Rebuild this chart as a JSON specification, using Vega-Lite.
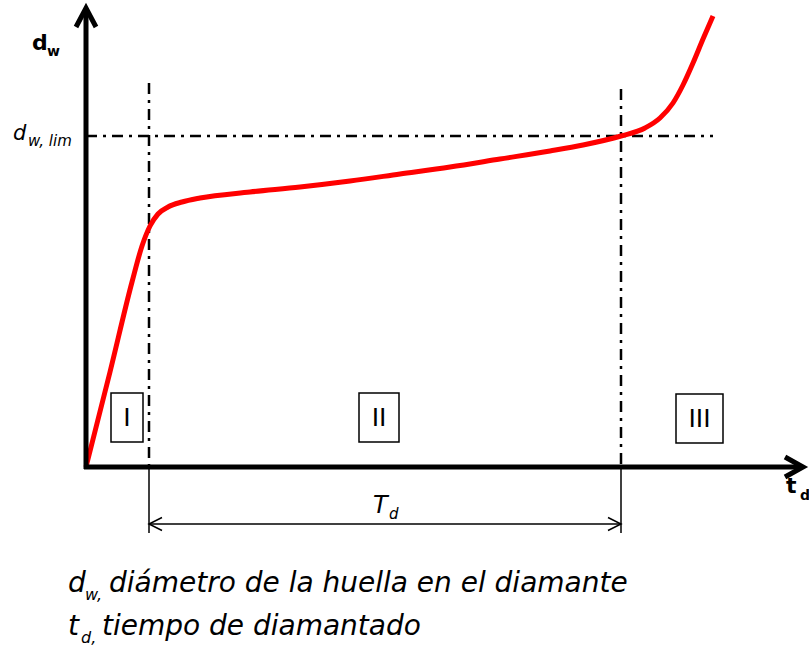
{
  "$schema": "https://vega.github.io/schema/vega-lite/v6.json",
  "width": 809,
  "height": 651,
  "padding": 0,
  "autosize": {"type": "none"},
  "background": "white",
  "config": {"view": {"stroke": null}},
  "datasets": {
    "curve": [
      {"t": 0, "d": 0}, {"t": 2.4, "d": 9.5}, {"t": 4.6, "d": 18.5}, {"t": 5.6, "d": 22.1},
      {"t": 6.4, "d": 24.1}, {"t": 7.2, "d": 25.3}, {"t": 8.2, "d": 26.0}, {"t": 9.6, "d": 26.5},
      {"t": 11.4, "d": 26.9}, {"t": 16.4, "d": 27.5}, {"t": 21.4, "d": 28.0}, {"t": 26.4, "d": 28.6},
      {"t": 31.4, "d": 29.3}, {"t": 36.4, "d": 30.0}, {"t": 41.4, "d": 30.8}, {"t": 46.4, "d": 31.6},
      {"t": 49.7, "d": 32.2}, {"t": 53.5, "d": 33.1}, {"t": 55.9, "d": 33.9}, {"t": 57.4, "d": 34.9},
      {"t": 58.7, "d": 36.4}, {"t": 59.7, "d": 38.2}, {"t": 60.7, "d": 40.4}, {"t": 61.7, "d": 42.8},
      {"t": 62.7, "d": 45.1}
    ],
    "axes": [
      {"seg": "yaxis", "ord": 0, "t": 0, "d": -0.2}, {"seg": "yaxis", "ord": 1, "t": 0, "d": 45.7},
      {"seg": "yhead", "ord": 0, "t": -1.0, "d": 44.0}, {"seg": "yhead", "ord": 1, "t": 0, "d": 45.9}, {"seg": "yhead", "ord": 2, "t": 1.0, "d": 44.0},
      {"seg": "xaxis", "ord": 0, "t": -0.2, "d": 0}, {"seg": "xaxis", "ord": 1, "t": 71.5, "d": 0},
      {"seg": "xhead", "ord": 0, "t": 69.9, "d": 1.0}, {"seg": "xhead", "ord": 1, "t": 71.7, "d": 0}, {"seg": "xhead", "ord": 2, "t": 69.9, "d": -1.0}
    ],
    "thin": [
      {"seg": "ext1", "ord": 0, "t": 6.3, "d": 0}, {"seg": "ext1", "ord": 1, "t": 6.3, "d": -6.6},
      {"seg": "ext2", "ord": 0, "t": 53.5, "d": 0}, {"seg": "ext2", "ord": 1, "t": 53.5, "d": -6.6},
      {"seg": "span", "ord": 0, "t": 6.3, "d": -5.7}, {"seg": "span", "ord": 1, "t": 53.5, "d": -5.7},
      {"seg": "headL", "ord": 0, "t": 7.6, "d": -5.05}, {"seg": "headL", "ord": 1, "t": 6.3, "d": -5.7}, {"seg": "headL", "ord": 2, "t": 7.6, "d": -6.35},
      {"seg": "headR", "ord": 0, "t": 52.2, "d": -5.05}, {"seg": "headR", "ord": 1, "t": 53.5, "d": -5.7}, {"seg": "headR", "ord": 2, "t": 52.2, "d": -6.35}
    ],
    "guides": [
      {"seg": "v1", "ord": 0, "t": 6.3, "d": 38.4}, {"seg": "v1", "ord": 1, "t": 6.3, "d": 0},
      {"seg": "v2", "ord": 0, "t": 53.5, "d": 37.8}, {"seg": "v2", "ord": 1, "t": 53.5, "d": 0},
      {"seg": "h", "ord": 0, "t": 0, "d": 33.1}, {"seg": "h", "ord": 1, "t": 62.7, "d": 33.1}
    ],
    "stages": [
      {"label": "I", "t0": 2.5, "t1": 5.7, "d0": 2.5, "d1": 7.4, "t": 4.1, "d": 4.95},
      {"label": "II", "t0": 27.3, "t1": 31.3, "d0": 2.5, "d1": 7.4, "t": 29.3, "d": 4.95},
      {"label": "III", "t0": 59.0, "t1": 63.7, "d0": 2.4, "d1": 7.3, "t": 61.35, "d": 4.85}
    ]
  },
  "encoding": {
    "x": {"field": "t", "type": "quantitative", "scale": {"domain": [-8.6, 72.3], "nice": false, "zero": false}, "axis": null},
    "y": {"field": "d", "type": "quantitative", "scale": {"domain": [-18.4, 46.7], "nice": false, "zero": false}, "axis": null}
  },
  "layer": [
    {
      "data": {"name": "guides"},
      "mark": {"type": "line", "color": "black", "strokeWidth": 2.5, "strokeDash": [11, 6, 3, 6]},
      "encoding": {"detail": {"field": "seg"}, "order": {"field": "ord"}}
    },
    {
      "data": {"name": "thin"},
      "mark": {"type": "line", "color": "black", "strokeWidth": 1.5},
      "encoding": {"detail": {"field": "seg"}, "order": {"field": "ord"}}
    },
    {
      "data": {"name": "stages"},
      "mark": {"type": "rect", "fill": null, "stroke": "black", "strokeWidth": 1.5},
      "encoding": {
        "x": {"field": "t0", "type": "quantitative"},
        "x2": {"field": "t1"},
        "y": {"field": "d0", "type": "quantitative"},
        "y2": {"field": "d1"}
      }
    },
    {
      "data": {"name": "stages"},
      "mark": {"type": "text", "font": "DejaVu Sans", "fontSize": 25, "align": "center", "baseline": "middle", "color": "black"},
      "encoding": {"text": {"field": "label"}}
    },
    {
      "data": {"name": "curve"},
      "mark": {"type": "line", "color": "#ff0000", "strokeWidth": 5, "interpolate": "monotone"},
      "encoding": {}
    },
    {
      "data": {"name": "axes"},
      "mark": {"type": "line", "color": "black", "strokeWidth": 5, "strokeJoin": "miter"},
      "encoding": {"detail": {"field": "seg"}, "order": {"field": "ord"}}
    },
    {
      "data": {"values": [{"t": -5.4, "d": 41.7, "label": "d"}, {"t": 70.0, "d": -2.6, "label": "t"}]},
      "mark": {"type": "text", "font": "DejaVu Sans", "fontWeight": "bold", "fontSize": 22, "align": "left", "baseline": "alphabetic", "color": "black"},
      "encoding": {"text": {"field": "label"}}
    },
    {
      "data": {"values": [{"t": -3.9, "d": 41.1, "label": "w"}, {"t": 71.4, "d": -3.3, "label": "d"}]},
      "mark": {"type": "text", "font": "DejaVu Sans", "fontWeight": "bold", "fontSize": 14, "align": "left", "baseline": "alphabetic", "color": "black"},
      "encoding": {"text": {"field": "label"}}
    },
    {
      "data": {"values": [{"t": -7.3, "d": 32.7, "label": "d"}]},
      "mark": {"type": "text", "font": "DejaVu Sans", "fontStyle": "italic", "fontSize": 21, "align": "left", "baseline": "alphabetic", "color": "black"},
      "encoding": {"text": {"field": "label"}}
    },
    {
      "data": {"values": [{"t": 28.7, "d": -4.6, "label": "T"}]},
      "mark": {"type": "text", "font": "DejaVu Sans", "fontStyle": "italic", "fontSize": 24, "align": "left", "baseline": "alphabetic", "color": "black"},
      "encoding": {"text": {"field": "label"}}
    },
    {
      "data": {"values": [{"t": -5.8, "d": 32.1, "label": "w, lim"}, {"t": 30.3, "d": -5.2, "label": "d"}]},
      "mark": {"type": "text", "font": "DejaVu Sans", "fontStyle": "italic", "fontSize": 15, "align": "left", "baseline": "alphabetic", "color": "black"},
      "encoding": {"text": {"field": "label"}}
    },
    {
      "data": {"values": [
        {"t": -1.8, "d": -12.5, "label": "d"},
        {"t": 2.3, "d": -12.5, "label": "diámetro de la huella en el diamante"},
        {"t": -1.8, "d": -16.8, "label": "t"},
        {"t": 1.6, "d": -16.8, "label": "tiempo de diamantado"}
      ]},
      "mark": {"type": "text", "font": "DejaVu Sans", "fontStyle": "italic", "fontSize": 28, "align": "left", "baseline": "alphabetic", "color": "black"},
      "encoding": {"text": {"field": "label"}}
    },
    {
      "data": {"values": [
        {"t": -0.1, "d": -13.3, "label": "w,"},
        {"t": -0.5, "d": -17.6, "label": "d,"}
      ]},
      "mark": {"type": "text", "font": "DejaVu Sans", "fontStyle": "italic", "fontSize": 16, "align": "left", "baseline": "alphabetic", "color": "black"},
      "encoding": {"text": {"field": "label"}}
    }
  ]
}
